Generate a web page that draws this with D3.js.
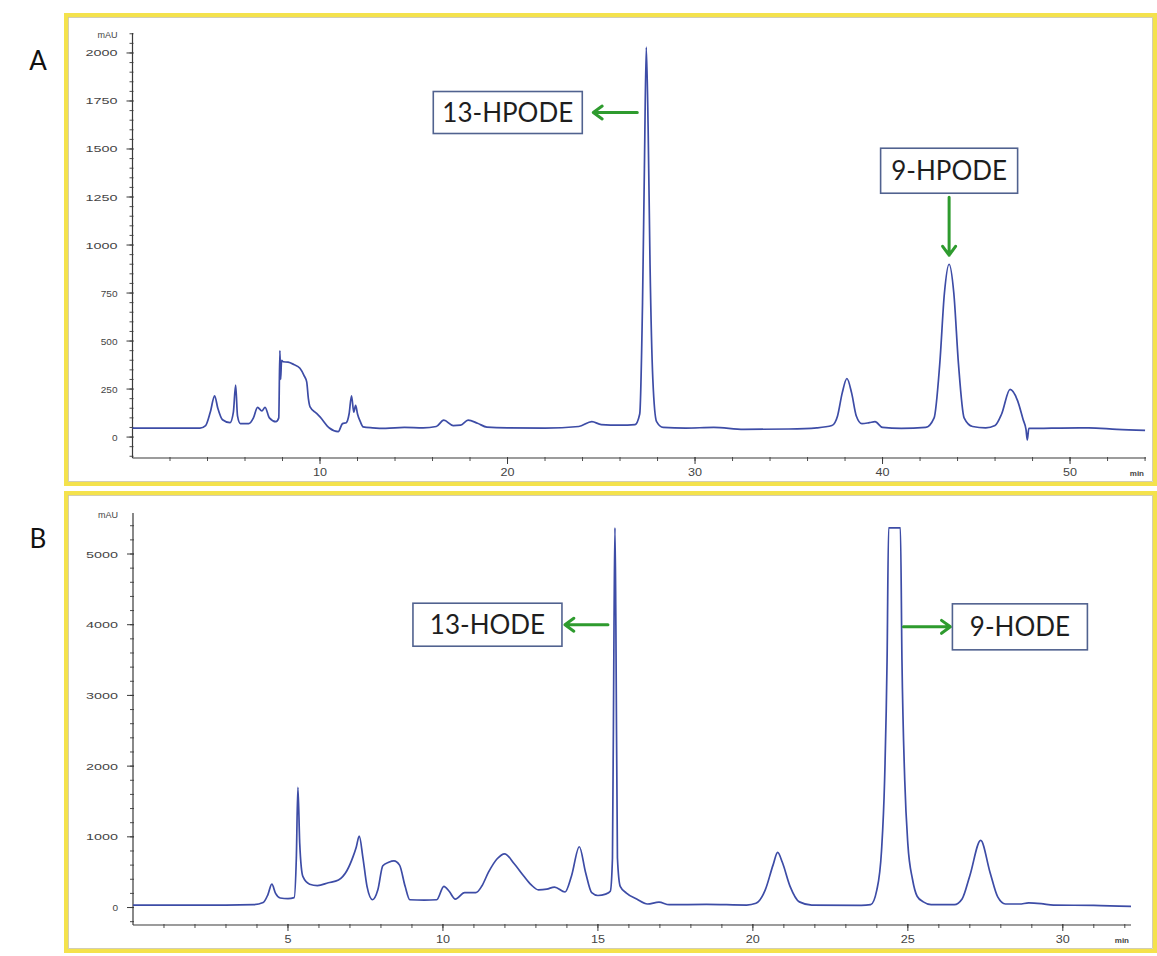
<!DOCTYPE html>
<html>
<head>
<meta charset="utf-8">
<script src="https://cdn.jsdelivr.net/npm/d3@7"></script>
<style>
  body { margin: 0; background: #fff; }
  svg { display: block; }
</style>
</head>
<body>
<script>
// ---------- chromatogram data: [retention time (min), absorbance (mAU)] ----------
const traceA = [
  [0,47],[3.6,47],[3.9,60],[4.15,130],[4.38,215],[4.55,150],[4.8,90],[5.2,75],[5.38,130],[5.5,270],
  [5.6,110],[5.75,70],[6.2,70],[6.45,100],[6.67,155],[6.9,136],[7.07,155],[7.3,100],[7.65,80],[7.8,100],
  [7.86,450],[7.9,300],[7.95,400],[8.03,392],[8.3,390],[8.6,378],[8.93,358],[9.15,320],[9.29,287],[9.38,200],
  [9.47,157],[9.8,125],[10.0,105],[10.5,47],[10.97,28],[11.2,70],[11.4,75],[11.55,120],[11.68,215],[11.8,130],
  [11.9,165],[12.0,120],[12.15,80],[12.3,53],[12.8,48],[13.5,45],[14.5,50],[15.5,48],[16.2,55],[16.6,88],
  [17.1,60],[17.5,62],[17.9,88],[18.4,72],[18.9,52],[20,48],[22,47],[23.8,55],[24.5,80],[25.0,65],
  [26.0,62],[26.8,65],[27.05,120],[27.2,700],[27.3,1400],[27.4,2030],[27.5,1600],[27.6,900],[27.75,300],[27.95,80],
  [28.3,50],[29.5,47],[31,50],[32.6,40],[35,42],[36.5,48],[37.3,60],[37.6,110],[37.85,230],[38.1,305],
  [38.35,230],[38.6,110],[38.9,70],[39.3,75],[39.6,80],[40.0,50],[41,45],[42.3,50],[42.75,100],[43.05,380],
  [43.3,750],[43.55,900],[43.8,750],[44.05,380],[44.35,100],[44.8,55],[45.5,48],[46.0,60],[46.35,120],[46.8,248],
  [47.2,190],[47.5,90],[47.65,40],[47.72,-15],[47.8,45],[48.3,45],[49.5,47],[51,48],[52.5,40],[54.0,35]
];

const traceB = [
  [0,35],[3.0,35],[3.9,40],[4.2,70],[4.35,180],[4.48,330],[4.6,200],[4.75,135],[5.0,125],[5.2,140],
  [5.27,700],[5.32,1700],[5.38,900],[5.48,440],[5.7,330],[5.95,310],[6.3,350],[6.63,390],[6.9,520],[7.1,720],
  [7.2,850],[7.3,1010],[7.42,700],[7.55,300],[7.73,110],[7.9,250],[8.06,590],[8.25,640],[8.42,660],[8.6,600],
  [8.78,300],[8.93,110],[9.4,105],[9.8,110],[10.03,300],[10.2,230],[10.4,120],[10.7,210],[11.06,210],[11.25,300],
  [11.47,500],[11.75,690],[11.99,760],[12.3,620],[12.6,450],[12.85,320],[13.08,250],[13.35,260],[13.6,290],[13.94,220],
  [14.15,450],[14.4,860],[14.6,500],[14.8,210],[15.0,170],[15.25,190],[15.4,230],[15.47,700],[15.52,4000],[15.55,5370],
  [15.58,4000],[15.63,700],[15.72,300],[15.92,205],[16.25,120],[16.6,50],[16.97,76],[17.3,40],[18.5,45],[19.8,35],
  [20.1,60],[20.4,250],[20.65,600],[20.8,780],[20.95,640],[21.2,300],[21.5,80],[21.9,35],[23.5,30],[23.8,40],
  [24.0,250],[24.15,800],[24.25,1800],[24.33,3500],[24.38,5370],[24.76,5370],[24.81,3500],[24.9,1800],[25.0,900],[25.15,400],
  [25.3,160],[25.5,80],[25.75,40],[26.5,40],[26.75,120],[27.0,450],[27.35,950],[27.65,500],[27.9,150],[28.15,50],
  [28.6,50],[28.9,65],[29.3,55],[29.7,35],[31,30],[32.2,15]
];

// axis tick values
const yTicksA = [0, 250, 500, 750, 1000, 1250, 1500, 1750, 2000];
const xTicksA = [10, 20, 30, 40, 50];
const yTicksB = [0, 1000, 2000, 3000, 4000, 5000];
const xTicksB = [5, 10, 15, 20, 25, 30];

// peak identifications
const peakNamesA = ["13-HPODE", "9-HPODE"];
const peakTimesA = [27.4, 43.55];
const peakNamesB = ["13-HODE", "9-HODE"];
const peakTimesB = [15.55, 24.76];

const yUnit = "mAU";
const xUnit = "min";

// ---------- drawing ----------
const W = 1157, H = 956;
const svg = d3.select("body").append("svg").attr("width", W).attr("height", H);

const TRACE = "#3d4ca6";
const AXIS = "#3a3a3a";
const GREEN = "#2e9b2e";
const BOXLINE = "#51628f";

function panel(cfg) {
  const g = svg.append("g");

  // yellow panel frame
  g.append("rect")
    .attr("x", cfg.frame[0]).attr("y", cfg.frame[1])
    .attr("width", cfg.frame[2]).attr("height", cfg.frame[3])
    .attr("fill", "none").attr("stroke", "#f4e24c").attr("stroke-width", 4);
  g.append("rect")
    .attr("x", cfg.frame[0] + 2.5).attr("y", cfg.frame[1] + 2.5)
    .attr("width", cfg.frame[2] - 5).attr("height", cfg.frame[3] - 5)
    .attr("fill", "none").attr("stroke", "#c9c2a0").attr("stroke-width", 0.8);

  // panel letter
  svg.append("text")
    .attr("x", cfg.letterPos[0]).attr("y", cfg.letterPos[1])
    .attr("font-family", "Lato, 'Open Sans', sans-serif")
    .attr("font-size", 26).attr("fill", "#111")
    .attr("text-anchor", "middle")
    .text(cfg.letter);

  const x = d3.scaleLinear().domain(cfg.xDomain).range(cfg.xRange);
  const y = d3.scaleLinear().domain(cfg.yDomain).range(cfg.yRange);
  const x0 = cfg.xRange[0], yb = cfg.yRange[0], yt = cfg.yRange[1];

  // minor ticks on y
  const yMinor = d3.range(Math.ceil(cfg.yDomain[0] / cfg.yMinor) * cfg.yMinor, cfg.yDomain[1], cfg.yMinor);
  g.append("g").selectAll("line").data(yMinor).join("line")
    .attr("x1", x0 - 3).attr("x2", x0 + 1)
    .attr("y1", d => y(d)).attr("y2", d => y(d))
    .attr("stroke", AXIS).attr("stroke-width", 0.9);
  // major ticks on y
  g.append("g").selectAll("line").data(cfg.yTicks).join("line")
    .attr("x1", x0 - 6).attr("x2", x0 + 1)
    .attr("y1", d => y(d)).attr("y2", d => y(d))
    .attr("stroke", AXIS).attr("stroke-width", 1);
  g.append("g").selectAll("text").data(cfg.yTicks).join("text")
    .attr("x", x0 - 15).attr("y", d => y(d) + 3.5)
    .attr("text-anchor", "end")
    .attr("font-family", "'Liberation Sans', Arial, sans-serif")
    .attr("font-size", 9.5).attr("fill", "#444")
    .attr("textLength", d => String(d).length === 4 ? 32 : String(d).length * 5.6)
    .attr("lengthAdjust", "spacingAndGlyphs")
    .text(d => d);
  g.append("text")
    .attr("x", x0 - 15).attr("y", yt + 5)
    .attr("text-anchor", "end")
    .attr("font-family", "'Liberation Sans', Arial, sans-serif")
    .attr("font-size", 9).attr("fill", "#444")
    .text(yUnit);

  // y axis line
  g.append("line")
    .attr("x1", x0).attr("x2", x0).attr("y1", yt).attr("y2", yb)
    .attr("stroke", AXIS).attr("stroke-width", 1.2);

  // minor ticks on x
  const xMinor = d3.range(cfg.xMinor, cfg.xDomain[1], cfg.xMinor);
  g.append("g").selectAll("line").data(xMinor).join("line")
    .attr("x1", d => x(d)).attr("x2", d => x(d))
    .attr("y1", yb - 1).attr("y2", yb + 3)
    .attr("stroke", AXIS).attr("stroke-width", 0.9);
  g.append("g").selectAll("line").data(cfg.xTicks).join("line")
    .attr("x1", d => x(d)).attr("x2", d => x(d))
    .attr("y1", yb - 1).attr("y2", yb + 6)
    .attr("stroke", AXIS).attr("stroke-width", 1);
  g.append("g").selectAll("text").data(cfg.xTicks).join("text")
    .attr("x", d => x(d)).attr("y", yb + 18)
    .attr("text-anchor", "middle")
    .attr("font-family", "'Liberation Sans', Arial, sans-serif")
    .attr("font-size", 10).attr("fill", "#444")
    .attr("textLength", d => String(d).length * 7)
    .attr("lengthAdjust", "spacingAndGlyphs")
    .text(d => d);
  g.append("text")
    .attr("x", cfg.xRange[1] - 2).attr("y", yb + 18)
    .attr("text-anchor", "end")
    .attr("font-family", "'Liberation Sans', Arial, sans-serif")
    .attr("font-size", 8).attr("font-weight", "bold").attr("fill", "#444")
    .text(xUnit);

  // x axis line
  g.append("line")
    .attr("x1", x0).attr("x2", cfg.xRange[1]).attr("y1", yb).attr("y2", yb)
    .attr("stroke", AXIS).attr("stroke-width", 1.2);

  // chromatogram trace
  const line = d3.line()
    .x(d => x(d[0])).y(d => y(d[1]))
    .curve(d3.curveMonotoneX);
  g.append("path")
    .datum(cfg.trace)
    .attr("d", line)
    .attr("fill", "none")
    .attr("stroke", TRACE)
    .attr("stroke-width", 1.7)
    .attr("stroke-linejoin", "round");

  return { g, x, y };
}

// labelled box with a green arrow pointing at a peak
function annotate(g, a) {
  const head = 11, ang = Math.PI / 5;
  let tail, tip, bx, by;
  if (a.dir === "left") {
    tail = [a.ax - a.off, a.ay]; tip = [tail[0] - a.len, a.ay];
    bx = tip[0] - a.gap - a.bw; by = a.ay - a.bh / 2;
  } else if (a.dir === "right") {
    tail = [a.ax + a.off, a.ay]; tip = [tail[0] + a.len, a.ay];
    bx = tip[0] + a.gap; by = a.ay - a.bh / 2;
  } else { // down
    tip = [a.ax, a.ay - a.off]; tail = [a.ax, tip[1] - a.len];
    bx = a.ax - a.bw / 2; by = tail[1] - a.gap - a.bh;
  }
  const dx = tip[0] - tail[0], dy = tip[1] - tail[1];
  const th = Math.atan2(dy, dx);
  const p1 = [tip[0] - head * Math.cos(th - ang), tip[1] - head * Math.sin(th - ang)];
  const p2 = [tip[0] - head * Math.cos(th + ang), tip[1] - head * Math.sin(th + ang)];
  g.append("path")
    .attr("d", `M${tail}L${tip}M${p1}L${tip}L${p2}`)
    .attr("fill", "none").attr("stroke", GREEN)
    .attr("stroke-width", 3).attr("stroke-linecap", "round").attr("stroke-linejoin", "round");
  g.append("rect")
    .attr("x", bx).attr("y", by).attr("width", a.bw).attr("height", a.bh)
    .attr("fill", "#fff").attr("stroke", BOXLINE).attr("stroke-width", 1.6);
  g.append("text")
    .attr("x", bx + a.bw / 2).attr("y", by + a.bh / 2 + 9)
    .attr("text-anchor", "middle")
    .attr("font-family", "Lato, 'Open Sans', sans-serif")
    .attr("font-size", 26).attr("fill", "#1e1e1e")
    .text(a.text);
}

const A = panel({
  letter: "A", letterPos: [38, 70],
  frame: [66, 15, 1089, 469],
  xDomain: [0, 54.05], xRange: [132.5, 1146],
  yDomain: [-109, 2104], yRange: [458, 33],
  xTicks: xTicksA, yTicks: yTicksA, xMinor: 2, yMinor: 50,
  trace: traceA
});

const B = panel({
  letter: "B", letterPos: [38, 548],
  frame: [66, 493, 1089, 458],
  xDomain: [0, 32.2], xRange: [133, 1131],
  yDomain: [-247, 5580], yRange: [925, 513],
  xTicks: xTicksB, yTicks: yTicksB, xMinor: 1, yMinor: 200,
  trace: traceB
});

annotate(A.g, { text: peakNamesA[0], ax: A.x(peakTimesA[0]), ay: A.y(1690), dir: "left",
  off: 9, len: 44, gap: 11, bw: 149, bh: 42 });
annotate(A.g, { text: peakNamesA[1], ax: A.x(peakTimesA[1]), ay: A.y(900), dir: "down",
  off: 9, len: 58, gap: 4, bw: 137, bh: 45 });
annotate(B.g, { text: peakNamesB[0], ax: B.x(peakTimesB[0]), ay: B.y(4000), dir: "left",
  off: 7, len: 43, gap: 3, bw: 149, bh: 43 });
annotate(B.g, { text: peakNamesB[1], ax: B.x(peakTimesB[1]), ay: B.y(3970), dir: "right",
  off: 3, len: 47, gap: 2, bw: 135, bh: 46 });
</script>
</body>
</html>
